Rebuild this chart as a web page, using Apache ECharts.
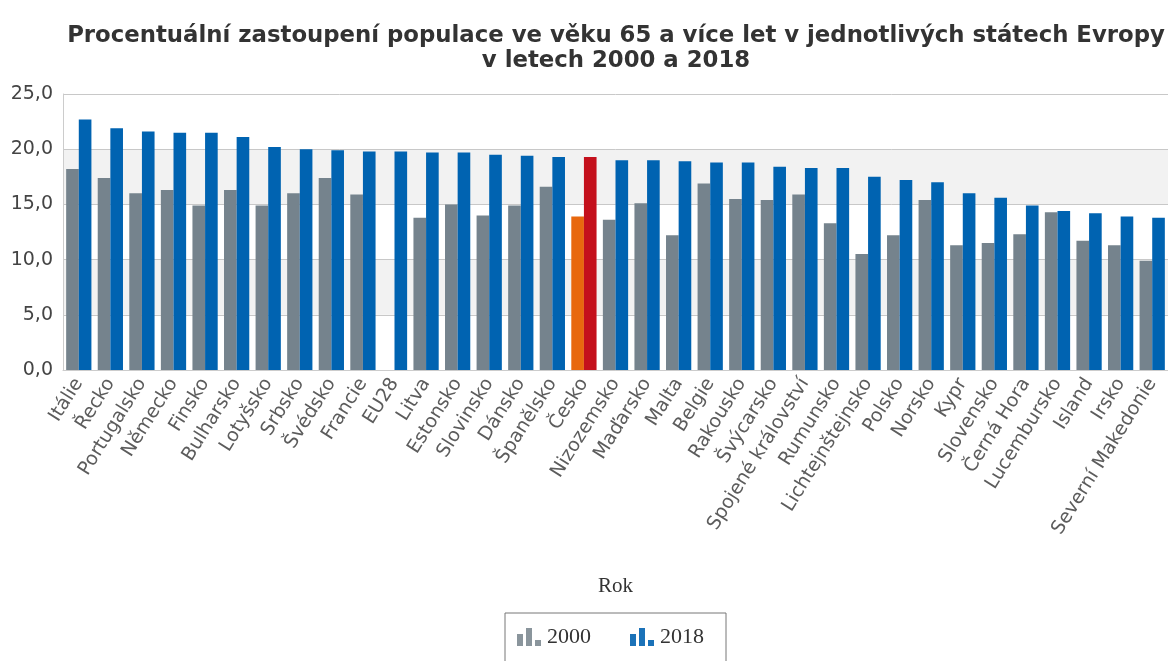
<!DOCTYPE html>
<html>
<head>
<meta charset="utf-8">
<script src="https://cdn.jsdelivr.net/npm/echarts@6/dist/echarts.min.js"></script>
<style>
html,body{margin:0;padding:0;background:#fff;}
#chart{width:1168px;height:661px;}
</style>
</head>
<body>
<div id="chart"></div>
<script>
var categories = ['Itálie','Řecko','Portugalsko','Německo','Finsko','Bulharsko','Lotyšsko','Srbsko','Švédsko','Francie','EU28','Litva','Estonsko','Slovinsko','Dánsko','Španělsko','Česko','Nizozemsko','Maďarsko','Malta','Belgie','Rakousko','Švýcarsko','Spojené království','Rumunsko','Lichtejnštejnsko','Polsko','Norsko','Kypr','Slovensko','Černá Hora','Lucembursko','Island','Irsko','Severní Makedonie'];
var values2000 = [18.2,17.4,16.0,16.3,14.9,16.3,14.9,16.0,17.4,15.9,null,13.8,15.0,14.0,14.9,16.6,13.9,13.6,15.1,12.2,16.9,15.5,15.4,15.9,13.3,10.5,12.2,15.4,11.3,11.5,12.3,14.3,11.7,11.3,9.9];
var values2018 = [22.7,21.9,21.6,21.5,21.5,21.1,20.2,20.0,19.9,19.8,19.8,19.7,19.7,19.5,19.4,19.3,19.3,19.0,19.0,18.9,18.8,18.8,18.4,18.3,18.3,17.5,17.2,17.0,16.0,15.6,14.9,14.4,14.2,13.9,13.8];
var yTicks = [0,5,10,15,20,25];
var highlight = 'Česko';

var barIcon = 'path://M0,6H6V18H0Z M9,0H15V18H9Z M18,12H24V18H18Z';

var d2000 = values2000.map(function(v,i){
  return categories[i]===highlight ? {value:v,itemStyle:{color:'#e8680e'}} : v;
});
var d2018 = values2018.map(function(v,i){
  return categories[i]===highlight ? {value:v,itemStyle:{color:'#c4101c'}} : v;
});

var chart = echarts.init(document.getElementById('chart'));
chart.setOption({
  animation:false,
  backgroundColor:'#fff',
  title:{
    text:'Procentuální zastoupení populace ve věku 65 a více let v jednotlivých státech Evropy\nv letech 2000 a 2018',
    left:611, top:19, textAlign:'center',
    textStyle:{fontFamily:'DejaVu Sans, Arial, sans-serif',fontWeight:'bold',fontSize:22.8,color:'#333',lineHeight:25}
  },
  grid:{left:63,right:0,top:94,bottom:291,containLabel:false},
  legend:{
    top:613, left:505,
    data:[{name:'2000',icon:barIcon,itemStyle:{color:'#8a959c'}},{name:'2018',icon:barIcon,itemStyle:{color:'#1b72b8'}}],
    itemWidth:26,itemHeight:18,itemGap:39,
    borderColor:'#777',borderWidth:1,
    padding:[13,22,22,12],
    textStyle:{fontFamily:'Liberation Serif, Times New Roman, serif',fontSize:22,color:'#333'}
  },
  xAxis:{
    type:'category',
    data:categories,
    name:'Rok',
    nameLocation:'middle',
    nameGap:206,
    nameTextStyle:{fontFamily:'Liberation Serif, Times New Roman, serif',fontSize:21,color:'#333'},
    axisLine:{lineStyle:{color:'#ccc'}},
    axisTick:{show:false},
    axisLabel:{rotate:58,interval:0,fontFamily:'DejaVu Sans, Arial, sans-serif',fontSize:19,color:'#5c5c5c',margin:10}
  },
  yAxis:{
    type:'value',
    min:yTicks[0],max:yTicks[yTicks.length-1],interval:5,
    axisLine:{show:true,lineStyle:{color:'#ccc'}},
    axisTick:{show:false},
    axisLabel:{fontFamily:'DejaVu Sans, Arial, sans-serif',fontSize:19,color:'#444',margin:10,
      formatter:function(v){return v.toFixed(1).replace('.',',');}},
    splitLine:{lineStyle:{color:'#c8c8c8'}},
    splitArea:{show:true,areaStyle:{color:['#ffffff','#f2f2f2']}}
  },
  series:[
    {name:'2000',type:'bar',data:d2000,barGap:'0%',barCategoryGap:'20%',itemStyle:{color:'#75838d'}},
    {name:'2018',type:'bar',data:d2018,barGap:'0%',barCategoryGap:'20%',itemStyle:{color:'#0063b1'}}
  ]
});
</script>
</body>
</html>
